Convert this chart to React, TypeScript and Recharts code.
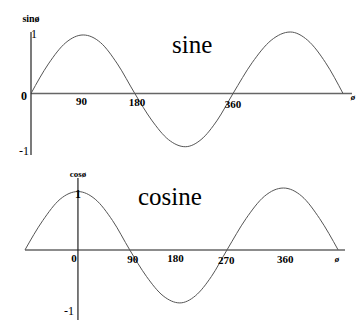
import React from 'react';
import { LineChart, Line, XAxis, YAxis, ReferenceLine, ReferenceDot } from 'recharts';

// Sine curve, sampled in degrees
const sineAngles = [0, 31, 62, 93, 124, 154, 185, 215, 245, 275, 303, 332, 360, 394, 428, 462, 493, 525, 556];
const sineValues = [0, 0.5, 0.86, 0.99, 0.86, 0.5, 0, -0.45, -0.78, -0.9, -0.78, -0.45, 0, 0.52, 0.9, 1.04, 0.9, 0.52, 0];

// Cosine curve, sampled in degrees
const cosineAngles = [-92, -61, -31, 0, 30, 60, 90, 119, 148, 177, 204, 232, 259, 292, 324, 357, 389, 420, 452];
const cosineValues = [0, 0.5, 0.86, 0.99, 0.86, 0.5, 0, -0.45, -0.78, -0.9, -0.78, -0.45, 0, 0.53, 0.91, 1.05, 0.91, 0.53, 0];

// Tick labels along each horizontal axis
const sineTicks = [90, 180, 360];
const cosineTicks = [0, 90, 180, 270, 360];

const sineData = sineAngles.map((deg, i) => ({ deg, v: sineValues[i] }));
const cosineData = cosineAngles.map((deg, i) => ({ deg, v: cosineValues[i] }));

const SERIF = '"Liberation Serif", "Times New Roman", serif';

type TagOpts = { dx?: number; dy?: number; anchor?: 'start' | 'middle' | 'end'; size?: number; weight?: string; italic?: boolean };

const tag = (text: string, o: TagOpts) => (props: any) => {
  const vb = props.viewBox || { x: 0, y: 0 };
  return (
    <text
      x={vb.x + (o.dx ?? 0)}
      y={vb.y + (o.dy ?? 0)}
      textAnchor={o.anchor ?? 'middle'}
      fontFamily={SERIF}
      fontSize={o.size ?? 11}
      fontWeight={o.weight ?? 'bold'}
      fontStyle={o.italic ? 'italic' : 'normal'}
      fill="#000"
    >
      {text}
    </text>
  );
};

const curveStroke = '#555';
const zeroStroke = '#666';
const axisStroke = '#222';

// per-tick nudges for the hand-set labels
const sineTickNudge: Record<number, { dx: number; dy: number }> = {
  90: { dx: 0, dy: 11 },
  180: { dx: 5, dy: 12 },
  360: { dx: 0, dy: 14 },
};
const cosineTickNudge: Record<number, { dx: number; dy: number }> = {
  0: { dx: -4, dy: 12 },
  90: { dx: 3, dy: 13 },
  180: { dx: -6, dy: 12 },
  270: { dx: -7, dy: 14 },
  360: { dx: 0, dy: 13 },
};

const SineChart = () => (
  <LineChart width={356} height={160} data={sineData} margin={{ top: 32, right: 4, bottom: 5, left: 31 }}>
    <XAxis type="number" dataKey="deg" domain={[0, 572]} hide />
    <YAxis type="number" domain={[-1.04, 1.02]} hide />
    <ReferenceLine y={0} stroke={zeroStroke} strokeWidth={1.5} />
    <ReferenceLine x={0} stroke={axisStroke} strokeWidth={1.2} />
    <Line type="monotone" dataKey="v" stroke={curveStroke} strokeWidth={1} dot={false} isAnimationActive={false} />
    <ReferenceDot x={0} y={1.02} r={0} label={tag('sinø', { dy: -11, size: 10 })} />
    <ReferenceDot x={0} y={1} r={0} label={tag('1', { dx: 0, dy: 4, anchor: 'start', size: 12, weight: 'normal' })} />
    <ReferenceDot x={0} y={0} r={0} label={tag('0', { dx: -4, dy: 6, anchor: 'end', size: 12 })} />
    <ReferenceDot x={0} y={-1} r={0} label={tag('-1', { dx: -2, dy: 2, anchor: 'end', size: 12, weight: 'normal' })} />
    {sineTicks.map((t) => (
      <ReferenceDot key={t} x={t} y={0} r={0} label={tag(String(t), { ...sineTickNudge[t], size: 11 })} />
    ))}
    <ReferenceDot x={572} y={0} r={0} label={tag('ø', { dx: 1, dy: 6, size: 9, italic: true })} />
    <text x={172} y={53} fontFamily={SERIF} fontSize={25} fill="#000">sine</text>
  </LineChart>
);

const CosineChart = () => (
  <LineChart width={356} height={162} data={cosineData} margin={{ top: 18, right: 11, bottom: 2, left: 25 }}>
    <XAxis type="number" dataKey="deg" domain={[-92, 464]} hide />
    <YAxis type="number" domain={[-1.19, 1.22]} hide />
    <ReferenceLine y={0} stroke={zeroStroke} strokeWidth={1.5} />
    <ReferenceLine x={0} stroke={axisStroke} strokeWidth={1.2} />
    <Line type="monotone" dataKey="v" stroke={curveStroke} strokeWidth={1} dot={false} isAnimationActive={false} />
    <ReferenceDot x={0} y={1.22} r={0} label={tag('cosø', { dy: -1, size: 9 })} />
    <ReferenceDot x={0} y={1} r={0} label={tag('1', { dy: 7, size: 12 })} />
    <ReferenceDot x={0} y={-1} r={0} label={tag('-1', { dx: -4, dy: 6, anchor: 'end', size: 12, weight: 'normal' })} />
    {cosineTicks.map((t) => (
      <ReferenceDot key={t} x={t} y={0} r={0} label={tag(String(t), { ...cosineTickNudge[t], size: 11 })} />
    ))}
    <ReferenceDot x={464} y={0} r={0} label={tag('ø', { dx: -8, dy: 12, size: 9, italic: true })} />
    <text x={138} y={45} fontFamily={SERIF} fontSize={25} fill="#000">cosine</text>
  </LineChart>
);

export default function App() {
  return (
    <div style={{ position: 'absolute', left: 0, top: 0, width: 356, height: 322, background: '#fff' }}>
      <div style={{ position: 'absolute', left: 0, top: 0 }}>
        <SineChart />
      </div>
      <div style={{ position: 'absolute', left: 0, top: 160 }}>
        <CosineChart />
      </div>
    </div>
  );
}
